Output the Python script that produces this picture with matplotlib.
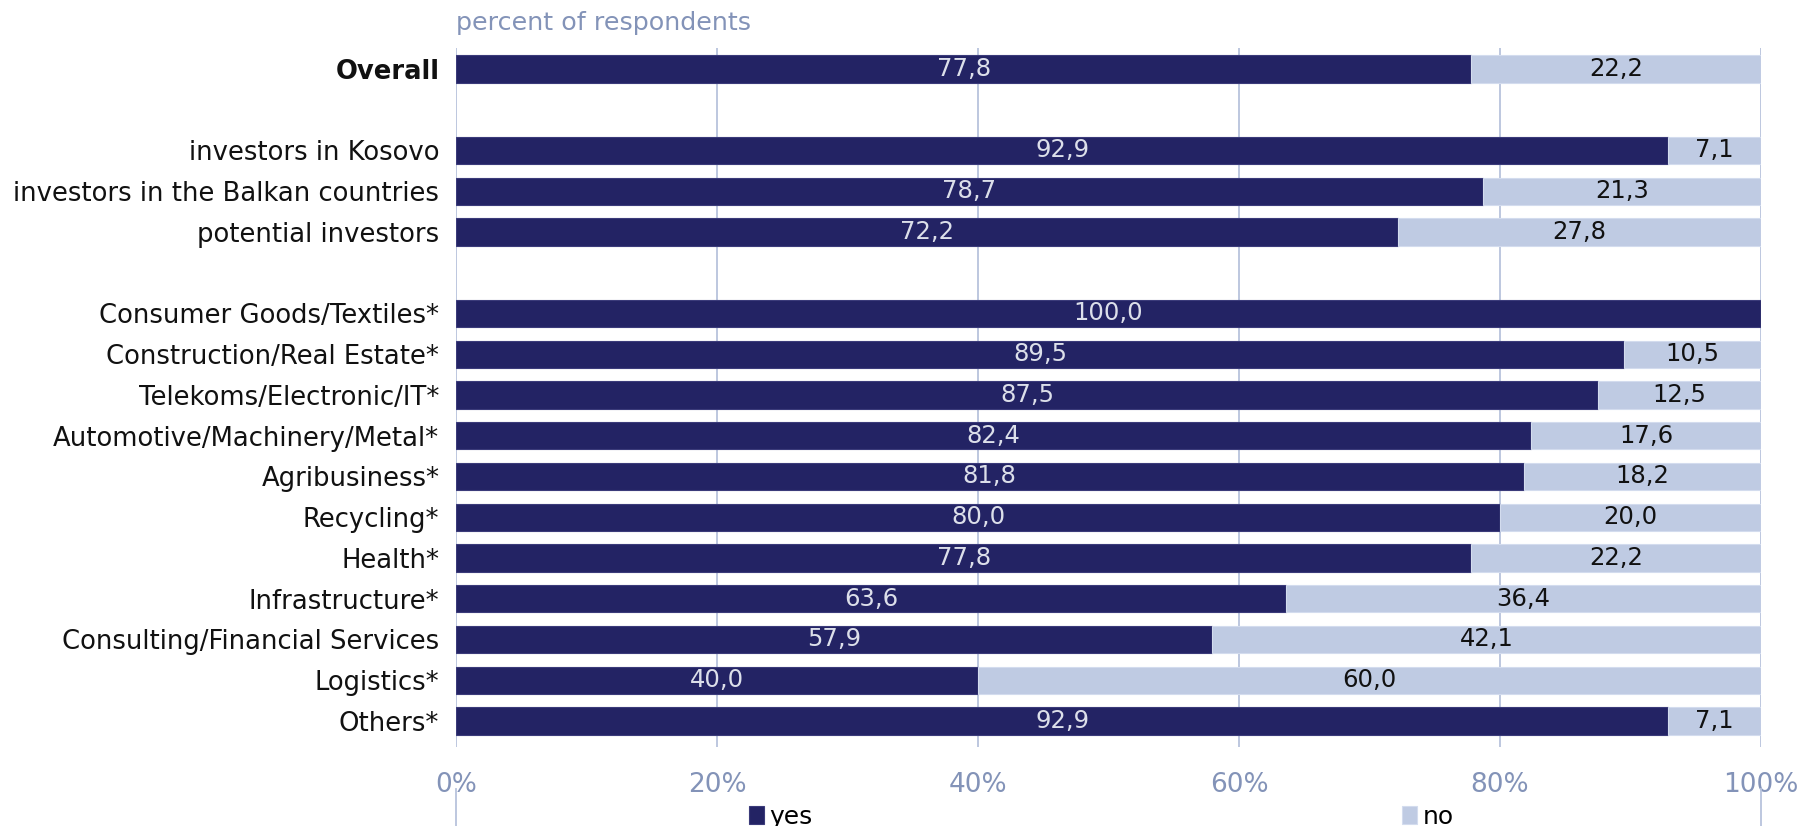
import matplotlib
matplotlib.use("Agg")
import matplotlib.pyplot as plt
from matplotlib.lines import Line2D
import numpy as np

plt.rcParams['font.family'] = ['DejaVu Sans']

categories = [
    "Overall",
    "investors in Kosovo",
    "investors in the Balkan countries",
    "potential investors",
    "Consumer Goods/Textiles*",
    "Construction/Real Estate*",
    "Telekoms/Electronic/IT*",
    "Automotive/Machinery/Metal*",
    "Agribusiness*",
    "Recycling*",
    "Health*",
    "Infrastructure*",
    "Consulting/Financial Services",
    "Logistics*",
    "Others*",
]
yes_values = [77.8, 92.9, 78.7, 72.2, 100.0, 89.5, 87.5, 82.4, 81.8, 80.0, 77.8, 63.6, 57.9, 40.0, 92.9]
no_values = [22.2, 7.1, 21.3, 27.8, 0.0, 10.5, 12.5, 17.6, 18.2, 20.0, 22.2, 36.4, 42.1, 60.0, 7.1]
x_ticks = [0, 20, 40, 60, 80, 100]
x_tick_labels = ["0%", "20%", "40%", "60%", "80%", "100%"]

# row slots, with empty slots separating the three groups
rows = [0, 2, 3, 4, 6, 7, 8, 9, 10, 11, 12, 13, 14, 15, 16]

YES_COLOR = "#232364"
NO_COLOR = "#BFCBE3"
GRID_COLOR = "#B7C3DC"
TICK_COLOR = "#8393B8"

fig = plt.figure(figsize=(18.01, 8.26), dpi=100)
ax = fig.add_axes([0.2532, 0.0956, 0.9778 - 0.2532, 0.9419 - 0.0956])

ypos = np.array(rows, dtype=float)
bar_h = 0.67
yes_bars = ax.barh(ypos, yes_values, height=bar_h, color=YES_COLOR, edgecolor="#3B3B7A",
                   linewidth=0.8, zorder=3, label="yes")
no_bars = ax.barh(ypos, no_values, left=yes_values, height=bar_h, color=NO_COLOR,
                  edgecolor="#D3DCEE", linewidth=0.8, zorder=3, label="no")

for y, yv, nv in zip(ypos, yes_values, no_values):
    ax.text(yv / 2, y, f"{yv:.1f}".replace(".", ","), ha="center", va="center",
            color="#DCDFEA", fontsize=17.5, zorder=4)
    if nv > 0:
        ax.text(yv + nv / 2, y, f"{nv:.1f}".replace(".", ","), ha="center", va="center",
                color="#111111", fontsize=17.5, zorder=4)

ax.set_xlim(0, 100)
ax.set_ylim(16.64, -0.515)
ax.set_xticks(x_ticks)
ax.set_xticklabels(x_tick_labels, color=TICK_COLOR, fontsize=19)
ax.set_yticks(ypos)
ax.set_yticklabels(categories, fontsize=18.6, color="#111111")
ax.get_yticklabels()[0].set_fontweight("bold")
ax.tick_params(axis="both", length=0)
ax.tick_params(axis="x", pad=18)
ax.tick_params(axis="y", pad=12)
for s in ax.spines.values():
    s.set_visible(False)
ax.xaxis.grid(True, color=GRID_COLOR, linewidth=1.3, zorder=0)
ax.set_axisbelow(True)

fig.text(0.2532, 0.972, "percent of respondents", color=TICK_COLOR, fontsize=18.3,
         ha="left", va="center")

# thin frame edges around the legend row
for xf in (0.2532, 0.9778):
    fig.add_artist(Line2D([xf, xf], [0.0, 0.045], color=GRID_COLOR, linewidth=1.3,
                          transform=fig.transFigure))

fig.legend(handles=[yes_bars, no_bars], labels=["yes", "no"], loc="center left",
           bbox_to_anchor=(0.416, 0.011), ncol=2, frameon=False, fontsize=18,
           handlelength=0.6, handleheight=0.75, handletextpad=0.2,
           columnspacing=23.6, borderpad=0, borderaxespad=0)

fig.savefig("out.png", dpi=100)
